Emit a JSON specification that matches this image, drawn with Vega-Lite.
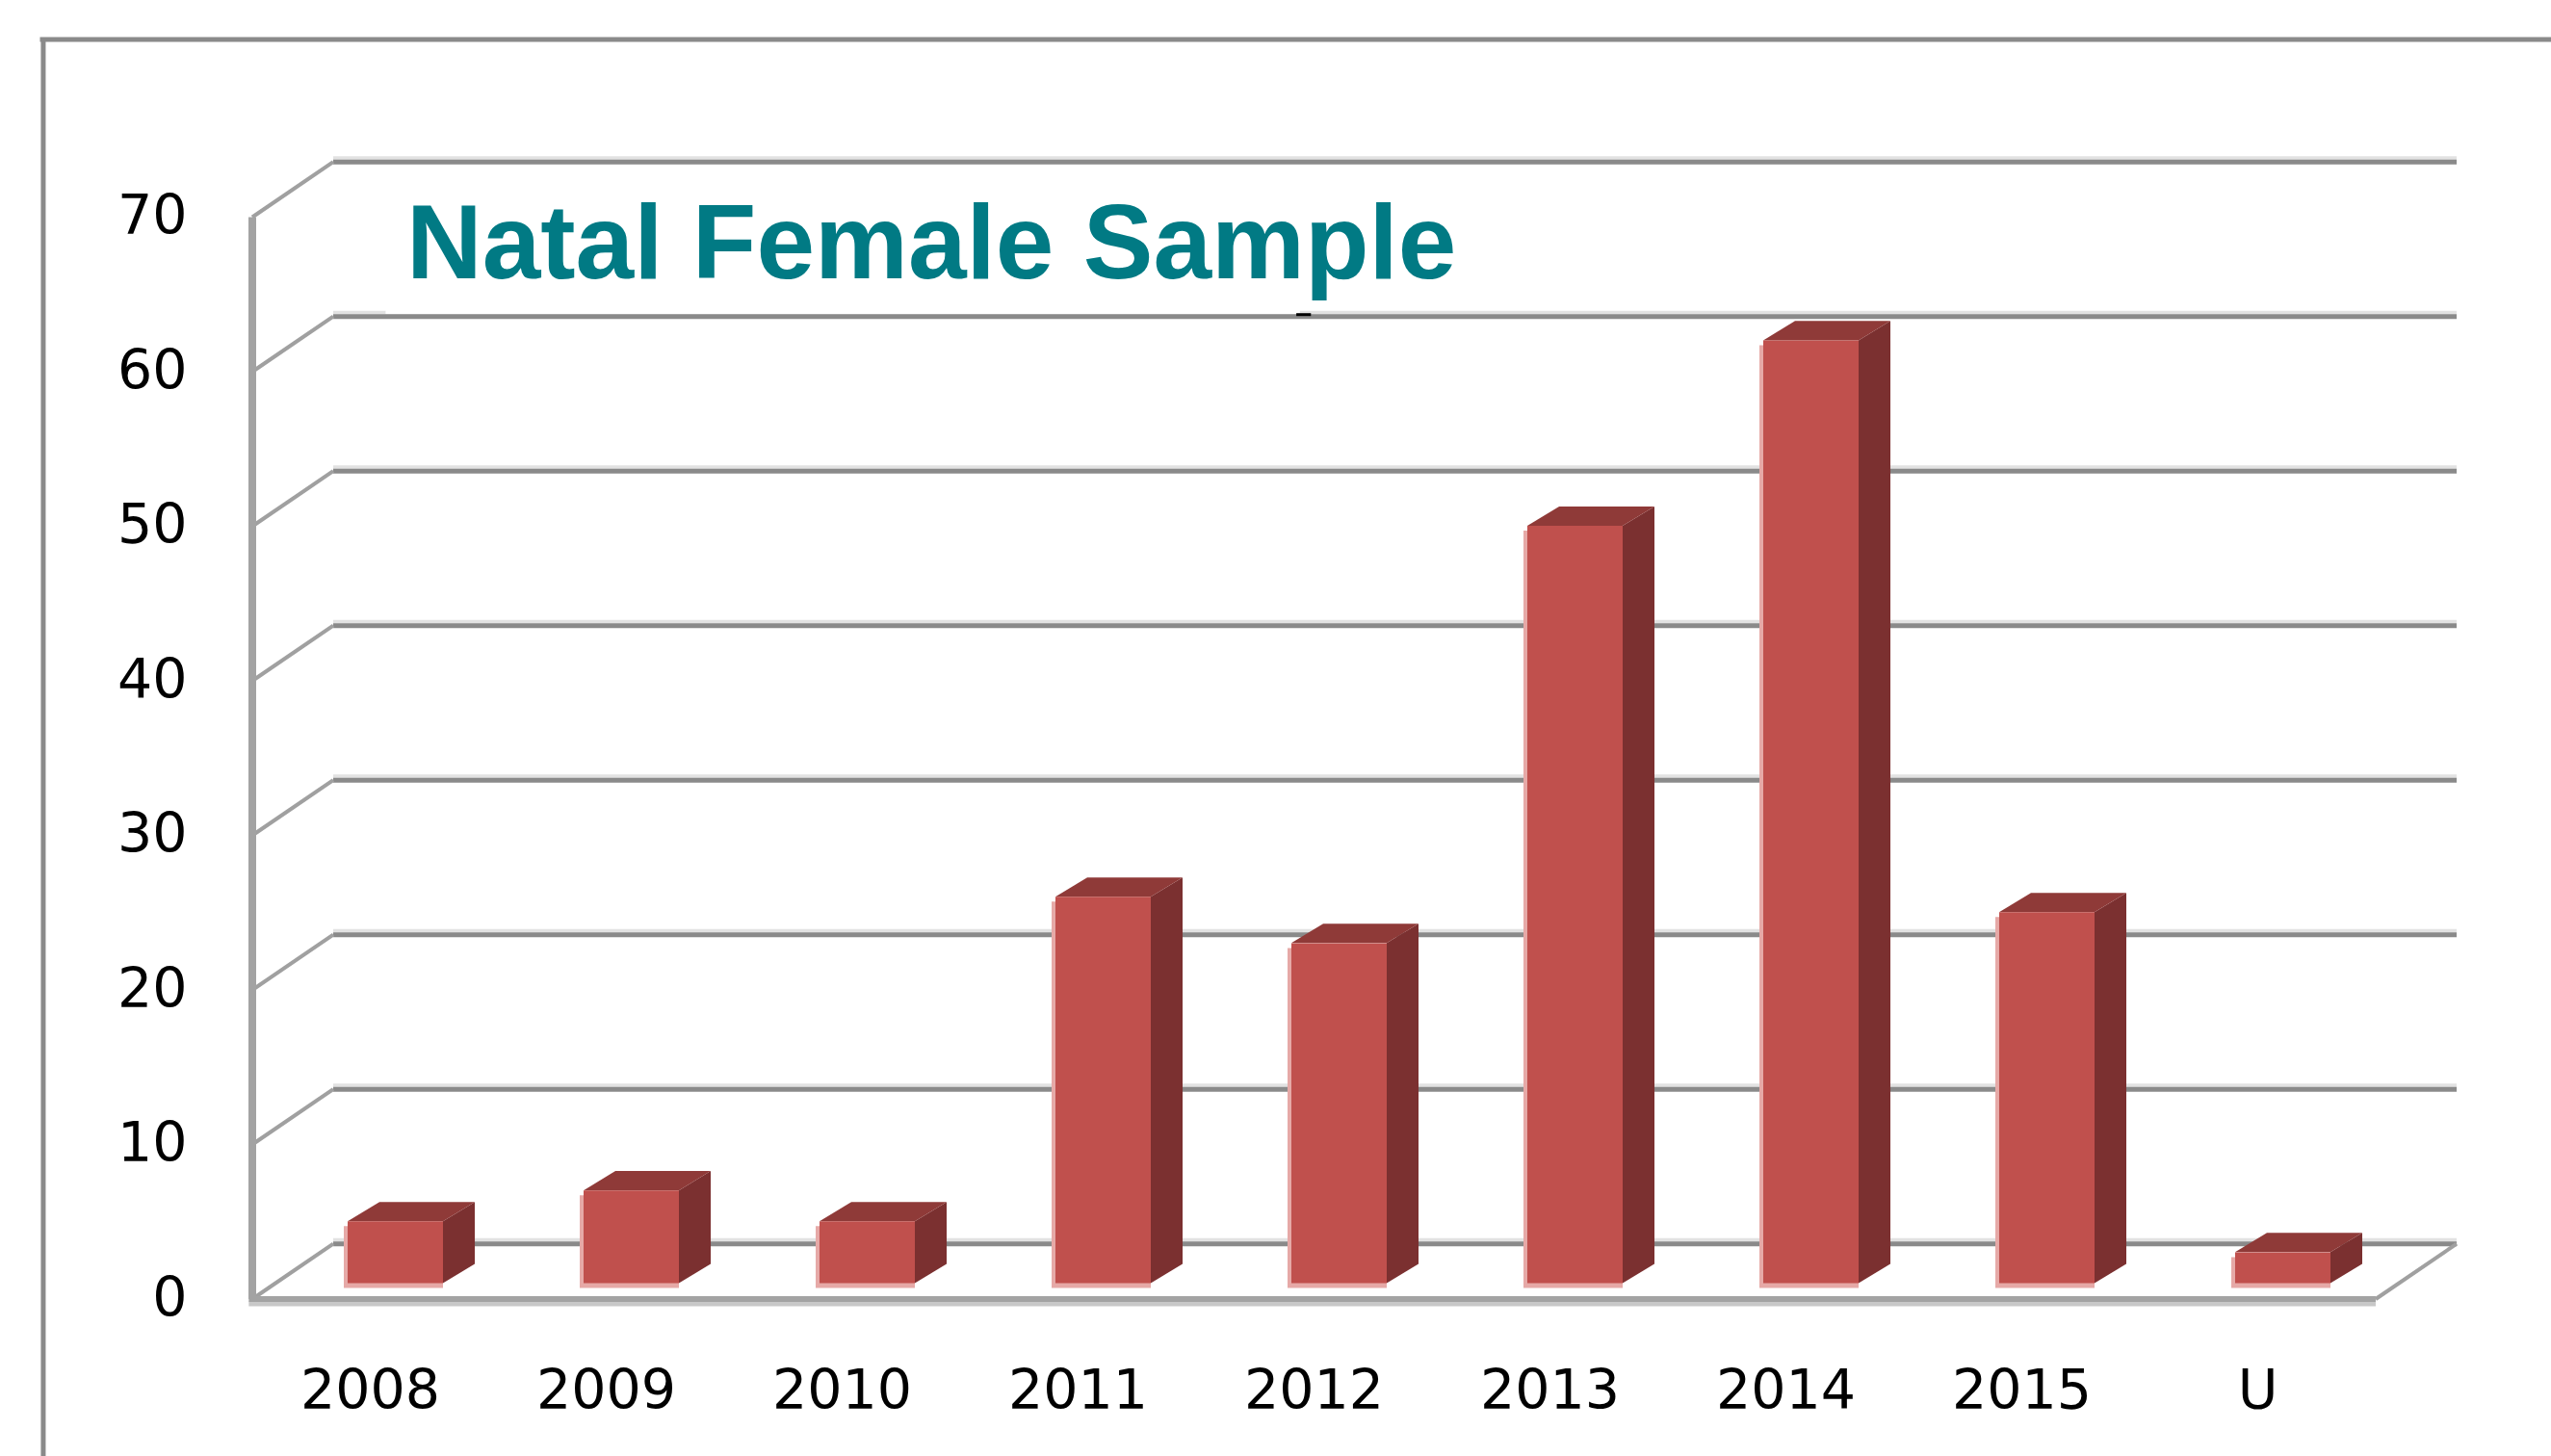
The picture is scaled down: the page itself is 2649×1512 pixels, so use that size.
{
"$schema":"https://vega.github.io/schema/vega-lite/v6.json",
"width":2289,"height":1184,
"autosize":{"type":"none"},
"padding":{"left":262,"top":165,"right":98,"bottom":163},
"background":"#ffffff",
"config":{"view":{"stroke":null}},
"datasets":{
"counts":[{"year":"2008","count":4},{"year":"2009","count":6},{"year":"2010","count":4},{"year":"2011","count":25},{"year":"2012","count":22},{"year":"2013","count":49},{"year":"2014","count":61},{"year":"2015","count":24},{"year":"U","count":2}],
"levels":[{"level":0,"back":3.57},{"level":10,"back":13.57},{"level":20,"back":23.57},{"level":30,"back":33.57},{"level":40,"back":43.57},{"level":50,"back":53.57},{"level":60,"back":63.57},{"level":70,"back":73.57}],
"faces":[
{"year":"2008","face":"side","pos":0.808,"low":1.03,"high":5.03},{"year":"2008","face":"side","pos":0.943,"low":2.28,"high":6.28},
{"year":"2008","face":"top","pos":0.404,"low":5.03,"high":5.03},{"year":"2008","face":"top","pos":0.539,"low":5.03,"high":6.28},{"year":"2008","face":"top","pos":0.808,"low":5.03,"high":6.28},{"year":"2008","face":"top","pos":0.943,"low":6.28,"high":6.28},
{"year":"2009","face":"side","pos":1.808,"low":1.03,"high":7.03},{"year":"2009","face":"side","pos":1.943,"low":2.28,"high":8.28},
{"year":"2009","face":"top","pos":1.404,"low":7.03,"high":7.03},{"year":"2009","face":"top","pos":1.539,"low":7.03,"high":8.28},{"year":"2009","face":"top","pos":1.808,"low":7.03,"high":8.28},{"year":"2009","face":"top","pos":1.943,"low":8.28,"high":8.28},
{"year":"2010","face":"side","pos":2.808,"low":1.03,"high":5.03},{"year":"2010","face":"side","pos":2.943,"low":2.28,"high":6.28},
{"year":"2010","face":"top","pos":2.404,"low":5.03,"high":5.03},{"year":"2010","face":"top","pos":2.539,"low":5.03,"high":6.28},{"year":"2010","face":"top","pos":2.808,"low":5.03,"high":6.28},{"year":"2010","face":"top","pos":2.943,"low":6.28,"high":6.28},
{"year":"2011","face":"side","pos":3.808,"low":1.03,"high":26.03},{"year":"2011","face":"side","pos":3.943,"low":2.28,"high":27.28},
{"year":"2011","face":"top","pos":3.404,"low":26.03,"high":26.03},{"year":"2011","face":"top","pos":3.539,"low":26.03,"high":27.28},{"year":"2011","face":"top","pos":3.808,"low":26.03,"high":27.28},{"year":"2011","face":"top","pos":3.943,"low":27.28,"high":27.28},
{"year":"2012","face":"side","pos":4.808,"low":1.03,"high":23.03},{"year":"2012","face":"side","pos":4.943,"low":2.28,"high":24.28},
{"year":"2012","face":"top","pos":4.404,"low":23.03,"high":23.03},{"year":"2012","face":"top","pos":4.539,"low":23.03,"high":24.28},{"year":"2012","face":"top","pos":4.808,"low":23.03,"high":24.28},{"year":"2012","face":"top","pos":4.943,"low":24.28,"high":24.28},
{"year":"2013","face":"side","pos":5.808,"low":1.03,"high":50.03},{"year":"2013","face":"side","pos":5.943,"low":2.28,"high":51.28},
{"year":"2013","face":"top","pos":5.404,"low":50.03,"high":50.03},{"year":"2013","face":"top","pos":5.539,"low":50.03,"high":51.28},{"year":"2013","face":"top","pos":5.808,"low":50.03,"high":51.28},{"year":"2013","face":"top","pos":5.943,"low":51.28,"high":51.28},
{"year":"2014","face":"side","pos":6.808,"low":1.03,"high":62.03},{"year":"2014","face":"side","pos":6.943,"low":2.28,"high":63.28},
{"year":"2014","face":"top","pos":6.404,"low":62.03,"high":62.03},{"year":"2014","face":"top","pos":6.539,"low":62.03,"high":63.28},{"year":"2014","face":"top","pos":6.808,"low":62.03,"high":63.28},{"year":"2014","face":"top","pos":6.943,"low":63.28,"high":63.28},
{"year":"2015","face":"side","pos":7.808,"low":1.03,"high":25.03},{"year":"2015","face":"side","pos":7.943,"low":2.28,"high":26.28},
{"year":"2015","face":"top","pos":7.404,"low":25.03,"high":25.03},{"year":"2015","face":"top","pos":7.539,"low":25.03,"high":26.28},{"year":"2015","face":"top","pos":7.808,"low":25.03,"high":26.28},{"year":"2015","face":"top","pos":7.943,"low":26.28,"high":26.28},
{"year":"U","face":"side","pos":8.808,"low":1.03,"high":3.03},{"year":"U","face":"side","pos":8.943,"low":2.28,"high":4.28},
{"year":"U","face":"top","pos":8.404,"low":3.03,"high":3.03},{"year":"U","face":"top","pos":8.539,"low":3.03,"high":4.28},{"year":"U","face":"top","pos":8.808,"low":3.03,"high":4.28},{"year":"U","face":"top","pos":8.943,"low":4.28,"high":4.28}
]},
"resolve":{"scale":{"x":"independent"},"axis":{"x":"independent","y":"independent"}},
"layer":[
{"resolve":{"axis":{"y":"independent"}},"layer":[
{"data":{"values":[{"part":"frame"}]},"mark":{"type":"rule","color":"#8a8a8a","strokeWidth":5,"clip":false},
 "encoding":{"x":{"datum":-0.886,"type":"quantitative","scale":{"domain":[0,9.343],"nice":false,"zero":false},"axis":null},"y":{"datum":-11,"type":"quantitative","scale":{"domain":[0,73.77],"nice":false},"axis":null},"y2":{"datum":81.6}}},
{"data":{"values":[{"part":"frame"}]},"mark":{"type":"rule","color":"#8a8a8a","strokeWidth":5,"clip":false},
 "encoding":{"x":{"datum":-0.9,"type":"quantitative","scale":{"domain":[0,9.343],"nice":false,"zero":false},"axis":null},"x2":{"datum":9.8},"y":{"datum":81.5,"type":"quantitative","scale":{"domain":[0,73.77],"nice":false},"axis":null}}},
{"data":{"name":"levels"},"mark":{"type":"rule","color":"#e2e2e2","strokeWidth":4,"yOffset":-4},
 "encoding":{"x":{"datum":0.343,"type":"quantitative","scale":{"domain":[0,9.343],"nice":false,"zero":false},"axis":null},"x2":{"datum":9.343},"y":{"field":"back","type":"quantitative","scale":{"domain":[0,73.77],"nice":false},"axis":null}}},
{"data":{"name":"levels"},"transform":[{"filter":"datum.level==60"}],"mark":{"type":"rule","color":"#ffffff","strokeWidth":5,"yOffset":-5},
 "encoding":{"x":{"datum":0.565,"type":"quantitative","scale":{"domain":[0,9.343],"nice":false,"zero":false},"axis":null},"x2":{"datum":4.44},"y":{"field":"back","type":"quantitative","scale":{"domain":[0,73.77],"nice":false},"axis":null}}},
{"data":{"name":"levels"},"mark":{"type":"rule","color":"#8a8a8a","strokeWidth":5},
 "encoding":{"x":{"datum":0.343,"type":"quantitative","scale":{"domain":[0,9.343],"nice":false,"zero":false},"axis":null},"x2":{"datum":9.343},"y":{"field":"back","type":"quantitative","scale":{"domain":[0,73.77],"nice":false},"axis":null}}},
{"data":{"name":"levels"},"transform":[{"filter":"datum.level==60"}],"mark":{"type":"rule","color":"#000000","strokeWidth":3,"yOffset":-2},
 "encoding":{"x":{"datum":4.425,"type":"quantitative","scale":{"domain":[0,9.343],"nice":false,"zero":false},"axis":null},"x2":{"datum":4.487},"y":{"field":"back","type":"quantitative","scale":{"domain":[0,73.77],"nice":false},"axis":null}}},
{"data":{"name":"levels"},"mark":{"type":"rule","color":"#a0a0a0","strokeWidth":4},
 "encoding":{"x":{"datum":0,"type":"quantitative","scale":{"domain":[0,9.343],"nice":false,"zero":false},"axis":null},"x2":{"datum":0.343},"y":{"field":"level","type":"quantitative","scale":{"domain":[0,73.77],"nice":false},"axis":{"title":null,"values":[0,10,20,30,40,50,60,70],"domain":false,"ticks":false,"grid":false,"labelPadding":68,"labelFont":"DejaVu Sans","labelFontSize":57,"labelColor":"#000000"}},"y2":{"field":"back"}}},
{"data":{"values":[{"part":"floor right"}]},"mark":{"type":"rule","color":"#a0a0a0","strokeWidth":4},
 "encoding":{"x":{"datum":9,"type":"quantitative","scale":{"domain":[0,9.343],"nice":false,"zero":false},"axis":null},"x2":{"datum":9.343},"y":{"datum":0,"type":"quantitative","scale":{"domain":[0,73.77],"nice":false},"axis":null},"y2":{"datum":3.57}}},
{"data":{"values":[{"part":"floor"}]},"mark":{"type":"rule","color":"#c8c8c8","strokeWidth":5,"yOffset":5},
 "encoding":{"x":{"datum":-0.015,"type":"quantitative","scale":{"domain":[0,9.343],"nice":false,"zero":false},"axis":null},"x2":{"datum":9},"y":{"datum":0,"type":"quantitative","scale":{"domain":[0,73.77],"nice":false},"axis":null}}},
{"data":{"values":[{"part":"floor"}]},"mark":{"type":"rule","color":"#a3a3a3","strokeWidth":6},
 "encoding":{"x":{"datum":-0.015,"type":"quantitative","scale":{"domain":[0,9.343],"nice":false,"zero":false},"axis":null},"x2":{"datum":9},"y":{"datum":0,"type":"quantitative","scale":{"domain":[0,73.77],"nice":false},"axis":null}}},
{"data":{"values":[{"part":"wall"}]},"mark":{"type":"rule","color":"#a3a3a3","strokeWidth":8},
 "encoding":{"x":{"datum":0,"type":"quantitative","scale":{"domain":[0,9.343],"nice":false,"zero":false},"axis":null},"y":{"datum":0,"type":"quantitative","scale":{"domain":[0,73.77],"nice":false},"axis":null},"y2":{"datum":70}}},
{"data":{"name":"faces"},"mark":{"type":"area","interpolate":"linear","line":false},
 "encoding":{"x":{"field":"pos","type":"quantitative","scale":{"domain":[0,9.343],"nice":false,"zero":false},"axis":null},"y":{"field":"low","type":"quantitative","scale":{"domain":[0,73.77],"nice":false},"axis":null,"stack":null},"y2":{"field":"high"},"detail":{"field":"year"},"color":{"field":"face","type":"nominal","scale":{"domain":["side","top"],"range":["#7B3030","#8F3A38"]},"legend":null}}},
{"data":{"values":[{"label":"Natal Female Sample"}]},"mark":{"type":"text","align":"left","baseline":"alphabetic","font":"Liberation Sans","fontWeight":"bold","fontSize":109,"color":"#017A84"},
 "encoding":{"text":{"field":"label"},"x":{"datum":0.653,"type":"quantitative","scale":{"domain":[0,9.343],"nice":false,"zero":false},"axis":null},"y":{"datum":66.07,"type":"quantitative","scale":{"domain":[0,73.77],"nice":false},"axis":null}}}
]},
{"data":{"name":"counts"},"layer":[
{"mark":{"type":"bar","color":"#E6A9A7","size":103,"xOffset":24,"yOffset":-11.5},
 "encoding":{"x":{"field":"year","type":"nominal","sort":null,"scale":{"range":[0,2205],"paddingInner":0,"paddingOuter":0},"axis":{"title":null,"domain":false,"ticks":false,"labelAngle":0,"labelPadding":68,"labelFont":"DejaVu Sans","labelFontSize":57,"labelColor":"#000000","labelBaseline":"top"}},"y":{"field":"count","type":"quantitative","scale":{"domain":[0,73.77],"nice":false},"axis":null}}},
{"mark":{"type":"bar","color":"#C0504D","size":99,"xOffset":26,"yOffset":-16.5},
 "encoding":{"x":{"field":"year","type":"nominal","sort":null},"y":{"field":"count","type":"quantitative","axis":null}}}
]}
]
}
